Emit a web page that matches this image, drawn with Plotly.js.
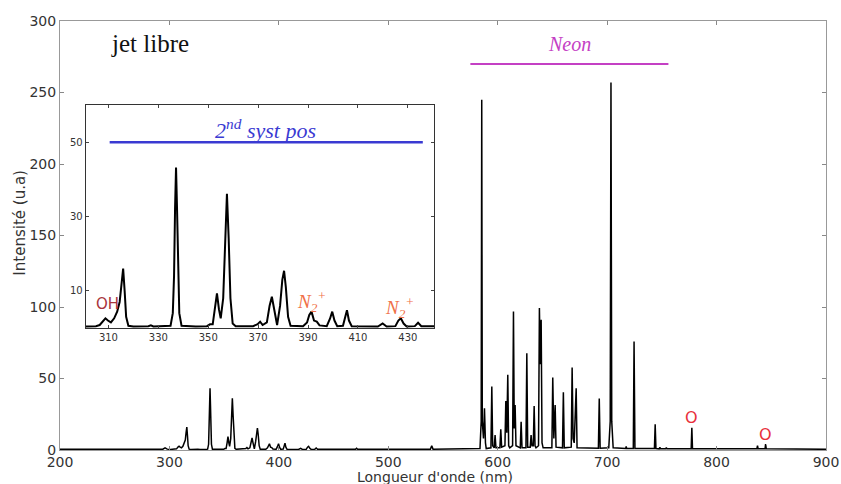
<!DOCTYPE html>
<html>
<head>
<meta charset="utf-8">
<script src="https://cdn.plot.ly/plotly-3.0.1.min.js"></script>
<style>html,body{margin:0;padding:0;background:#fff;}#chart{width:841px;height:484px;}</style>
</head>
<body>
<div id="chart"></div>
<script>
// Spectrum (wavelength in nm, intensity in a.u.)
const wavelength = [
  200, 250, 280, 294, 296, 298, 301, 305, 306.5, 307.8, 308.8, 309.8, 311.0, 312.3, 313.5, 314.5, 315.2, 315.9, 316.5, 317.1, 318.0,
  320, 326, 327, 328, 333, 334.9, 335.8, 336.3, 336.7, 337.1, 337.5, 337.9, 338.4, 339.3,
  345, 349.5, 350.7, 351.8, 352.7, 353.5, 354.3, 355.0, 356.0, 356.8, 357.5, 358.2, 358.9, 359.8,
  361, 368, 369.8, 370.8, 371.8, 373.5, 374.6, 375.5, 376.4, 377.6, 378.8, 379.7, 380.4, 381.1, 382.0, 383.0,
  388, 389.6, 390.5, 391.4, 392.4, 393.5, 394.6, 397.5, 398.8, 399.7, 400.6, 401.7, 404.0, 404.8, 405.6, 406.4, 407.5,
  418, 419.9, 421.5, 425, 426.2, 427.2, 428.3, 429.5, 432.8, 434.1, 435.4, 440, 445,
  470, 471, 472, 500, 538.5, 539.7, 540.9,
  583.8, 584.9, 585.4, 585.9, 587.0, 587.9, 588.8, 589.5, 593.8, 594.6, 595.4, 596.8, 597.6, 598.4,
  602.0, 602.8, 603.6, 606.6, 607.4, 608.3, 609.2, 610.0, 611.0, 613.6, 614.4, 615.1, 615.9, 616.7,
  620.6, 621.4, 622.2, 625.8, 626.6, 627.4, 629.7, 630.5, 631.3, 632.5, 633.3, 634.1, 635.0,
  637.3, 638.1, 638.9, 639.7, 640.5, 641.5, 649.5, 650.3, 651.3, 652.5, 653.3,
  659.2, 660.0, 660.8, 667.2, 668.0, 668.9, 669.9, 671.7, 672.5,
  692.0, 692.8, 693.6, 701.5, 702.8, 703.5, 704.2, 705.5, 716.9, 717.4, 717.9,
  723.9, 724.6, 725.4, 743.2, 743.9, 744.6, 747.6, 748.2, 748.8, 753.5, 754.1, 754.7,
  776.8, 777.4, 778.0, 836.8, 837.4, 838.0, 844.3, 844.8, 845.4, 870, 900
];
const intensity = [
  0.5, 0.5, 0.6, 0.6, 1.5, 0.6, 0.4, 0.5, 0.8, 2.0, 2.6, 2.0, 1.5, 2.6, 4.4, 7, 12, 16, 10, 3, 0.6,
  0.4, 0.5, 0.7, 0.4, 0.4, 0.6, 4, 14, 32, 43.2, 32, 14, 4, 0.6,
  0.4, 0.5, 1.0, 1.0, 5, 9.3, 5, 2.6, 8, 24, 36.1, 24, 8, 1.2,
  0.5, 0.5, 1.0, 1.7, 0.8, 1.5, 6, 8.4, 5, 0.8, 6, 13, 15.4, 11, 3, 0.6,
  0.5, 1.5, 3.5, 4.4, 2, 1.7, 0.7, 0.5, 2.5, 4.4, 2.0, 0.5, 0.6, 3, 4.8, 2.0, 0.5,
  0.4, 1.2, 0.4, 0.5, 2.0, 2.6, 1.2, 0.4, 0.5, 1.4, 0.5, 0.4, 0.5,
  0.5, 1.2, 0.5, 0.5, 0.6, 3, 0.6,
  1, 20, 245, 20, 8, 29.2, 5, 1, 1.5, 44.4, 3, 1.5, 10.5, 1.5,
  1.5, 14.5, 2, 3, 34.3, 12, 52.6, 3, 1.5, 3, 96.9, 15, 31.5, 3,
  1.5, 19.8, 1.5, 1.5, 67.7, 2, 2, 10.5, 3, 3, 30.8, 3, 1.5,
  3, 99.3, 60, 91, 5, 1.5, 1.5, 50.7, 8, 31.5, 2,
  1.5, 40.4, 1.5, 2, 57.7, 8, 5, 43.2, 1.5,
  1.2, 36, 1.2, 1.5, 20, 257, 20, 1.5, 1, 2.5, 1,
  1, 75.9, 1, 1, 18, 1, 0.8, 1.8, 0.8, 0.8, 1.6, 0.8,
  0.8, 15.6, 0.8, 0.8, 3, 0.8, 0.8, 4.2, 0.8, 0.6, 0.5
];

// Labelled bands
const neonBand = [575, 756];
const neonLevel = [270, 270];
const systPosBand = [310.5, 436];
const systPosLevel = [50, 50];

// Tick labels
const mainXTicks = [200, 300, 400, 500, 600, 700, 800, 900];
const mainYTicks = [0, 50, 100, 150, 200, 250, 300];
const insetXTicks = [310, 330, 350, 370, 390, 410, 430];
const insetYTicks = [10, 30, 50];

const tickFont = {family: 'DejaVu Sans', size: 14, color: '#333'};
const insetTickFont = {family: 'DejaVu Sans', size: 10, color: '#333'};

const traces = [
  {x: wavelength, y: intensity, type: 'scatter', mode: 'lines',
   line: {color: '#000', width: 1.5}, xaxis: 'x', yaxis: 'y', hoverinfo: 'skip'},
  {x: neonBand, y: neonLevel, type: 'scatter', mode: 'lines',
   line: {color: '#c440c4', width: 2}, xaxis: 'x', yaxis: 'y', hoverinfo: 'skip'},
  {x: wavelength, y: intensity, type: 'scatter', mode: 'lines',
   line: {color: '#000', width: 2}, xaxis: 'x2', yaxis: 'y2', hoverinfo: 'skip'},
  {x: systPosBand, y: systPosLevel, type: 'scatter', mode: 'lines',
   line: {color: '#3a3ad2', width: 2.5}, xaxis: 'x2', yaxis: 'y2', hoverinfo: 'skip'}
];

const layout = {
  width: 841, height: 484,
  margin: {l: 60, r: 15, t: 21, b: 34},
  paper_bgcolor: '#fff', plot_bgcolor: '#fff',
  showlegend: false,
  xaxis: {
    range: [200, 900], tickvals: mainXTicks, ticktext: mainXTicks.map(String),
    ticks: 'inside', ticklen: 4, tickcolor: '#888', mirror: 'ticks',
    showline: true, linecolor: '#999', linewidth: 1,
    showgrid: false, zeroline: false, tickfont: tickFont, ticklabelstandoff: -1,
    automargin: false
  },
  yaxis: {
    range: [0, 300], tickvals: mainYTicks, ticktext: mainYTicks.map(String),
    ticks: 'inside', ticklen: 4, tickcolor: '#888', mirror: 'ticks',
    showline: true, linecolor: '#999', linewidth: 1,
    showgrid: false, zeroline: false, tickfont: tickFont,
    automargin: false
  },
  xaxis2: {
    domain: [0.0339, 0.4883], anchor: 'y2',
    range: [301, 440.5], tickvals: insetXTicks, ticktext: insetXTicks.map(String),
    ticks: 'inside', ticklen: 3, tickcolor: '#444', mirror: 'ticks',
    showline: true, linecolor: '#333', linewidth: 1.3,
    showgrid: false, zeroline: false, tickfont: insetTickFont, ticklabelstandoff: 0
  },
  yaxis2: {
    domain: [0.2844, 0.8042], anchor: 'x2',
    range: [0, 60], tickvals: insetYTicks, ticktext: insetYTicks.map(String),
    ticks: 'inside', ticklen: 3, tickcolor: '#444', mirror: 'ticks',
    showline: true, linecolor: '#333', linewidth: 1.3,
    showgrid: false, zeroline: false, tickfont: insetTickFont
  },
  annotations: [
    {xref: 'paper', yref: 'paper', x: 0.4896, y: 0, yshift: -27, xanchor: 'center', yanchor: 'middle', showarrow: false,
     text: "Longueur d'onde (nm)", font: {family: 'DejaVu Sans', size: 14, color: '#333'}},
    {xref: 'paper', yref: 'paper', x: 0, xshift: -40, y: 0.53, xanchor: 'center', yanchor: 'middle', showarrow: false,
     textangle: -90, text: 'Intensité (u.a)', font: {family: 'DejaVu Sans', size: 15, color: '#333'}},
    {xref: 'x', yref: 'y', x: 245, y: 284, xanchor: 'left', yanchor: 'middle', showarrow: false,
     text: 'jet libre', font: {family: 'Liberation Serif', size: 25, color: '#111'}},
    {xref: 'x', yref: 'y', x: 666, y: 284, xanchor: 'center', yanchor: 'middle', showarrow: false,
     text: '<i>Neon</i>', font: {family: 'Liberation Serif', size: 20, color: '#c440c4'}},
    {xref: 'x', yref: 'y', x: 776.8, y: 22.4, xanchor: 'center', yanchor: 'middle', showarrow: false,
     text: 'O', font: {family: 'DejaVu Sans', size: 16, color: '#e8303a'}},
    {xref: 'x', yref: 'y', x: 844.4, y: 10.5, xanchor: 'center', yanchor: 'middle', showarrow: false,
     text: 'O', font: {family: 'DejaVu Sans', size: 16, color: '#e8303a'}},
    {xref: 'x2', yref: 'y2', x: 373, y: 53.5, xanchor: 'center', yanchor: 'middle', showarrow: false,
     text: '<i>2<sup>nd</sup> syst pos</i>', font: {family: 'Liberation Serif', size: 22, color: '#3a3ad2'}},
    {xref: 'x2', yref: 'y2', x: 309.6, y: 6.4, xanchor: 'center', yanchor: 'middle', showarrow: false,
     text: 'OH', font: {family: 'DejaVu Sans', size: 15, color: '#a8343c'}},
    {xref: 'x2', yref: 'y2', x: 391.5, y: 7.2, xanchor: 'center', yanchor: 'middle', showarrow: false,
     text: '<i>N<sub>2</sub><sup>+</sup></i>', font: {family: 'Liberation Serif', size: 19, color: '#f07048'}},
    {xref: 'x2', yref: 'y2', x: 426.8, y: 5.5, xanchor: 'center', yanchor: 'middle', showarrow: false,
     text: '<i>N<sub>2</sub><sup>+</sup></i>', font: {family: 'Liberation Serif', size: 19, color: '#f07048'}}
  ]
};

Plotly.newPlot('chart', traces, layout, {staticPlot: true, displayModeBar: false});
</script>
</body>
</html>
